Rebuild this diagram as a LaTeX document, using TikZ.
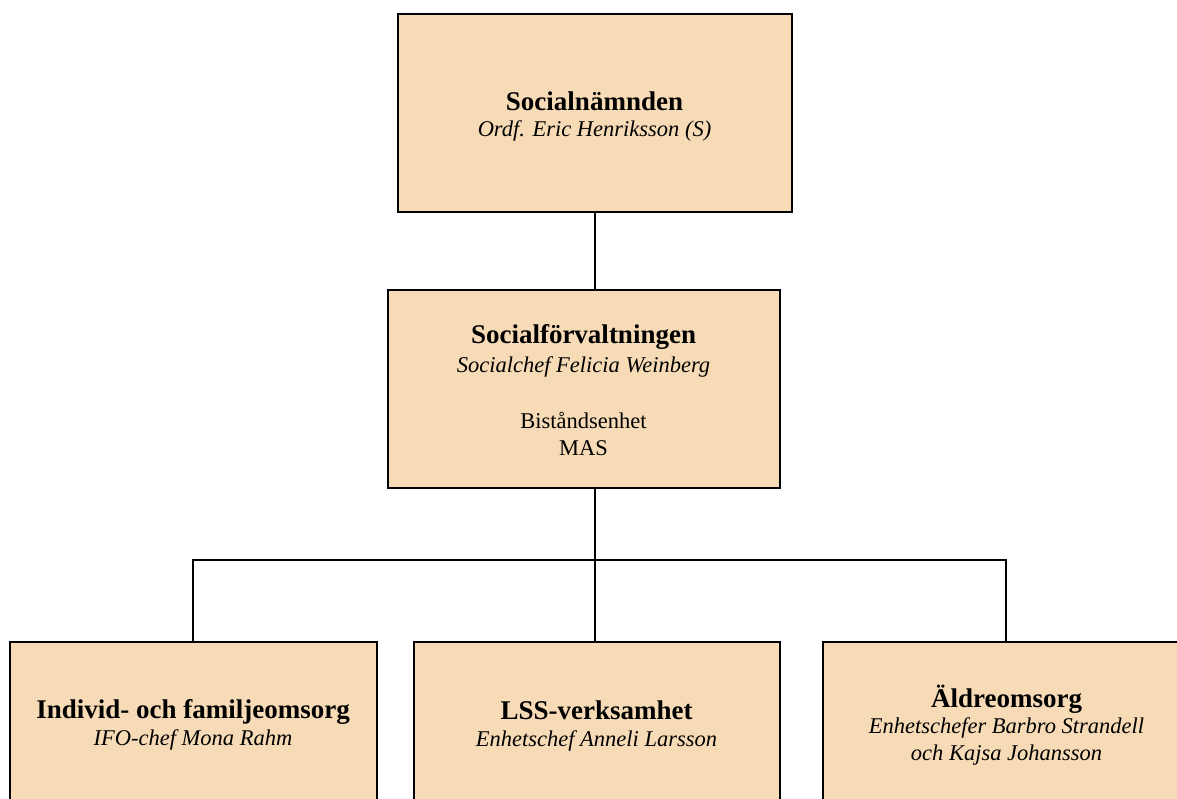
\documentclass[tikz,border=0pt]{standalone}
\usepackage{fontspec}
\setmainfont{Liberation Serif}
\definecolor{boxfill}{RGB}{247,219,183}
\begin{document}
\begin{tikzpicture}[x=1pt,y=-1pt,
  orgbox/.style={draw=black,fill=boxfill,line width=2pt,rectangle,inner sep=0pt},
  conn/.style={draw=black,line width=2pt},
  ttl/.style={anchor=base,inner sep=0pt,font=\fontsize{27}{30}\selectfont\bfseries},
  sub/.style={anchor=base,inner sep=0pt,font=\fontsize{22.5}{27}\selectfont\itshape},
  txt/.style={anchor=base,inner sep=0pt,font=\fontsize{22.5}{27}\selectfont}]
\useasboundingbox (0,0) rectangle (1177,799);
\clip (0,0) rectangle (1177,799);
\fill[white] (0,0) rectangle (1177,799);
% boxes
\node[orgbox,minimum width=394pt,minimum height=198pt] (top) at (594.5,113.5) {};
\node[orgbox,minimum width=392pt,minimum height=197pt] (mid) at (583.5,389) {};
\node[orgbox,minimum width=367pt,minimum height=198pt] (ifo) at (193,740.5) {};
\node[orgbox,minimum width=366pt,minimum height=198pt] (lss) at (596.5,740.5) {};
\node[orgbox,minimum width=366pt,minimum height=198pt] (ald) at (1006,740.5) {};
% texts
\node[ttl] (topA) at (594.5,111) {Socialnämnden};
\node[sub] (topB) at (594.5,137) {Ordf. Eric Henriksson (S)};
\node[ttl] (midA) at (583.5,343) {Socialförvaltningen};
\node[sub] (midB) at (583.5,372) {Socialchef Felicia Weinberg};
\node[txt] (midC) at (583.5,428) {Biståndsenhet};
\node[txt] (midD) at (583.5,455) {MAS};
\node[ttl] (ifoA) at (193,718) {Individ- och familjeomsorg};
\node[sub] (ifoB) at (193,745) {IFO-chef Mona Rahm};
\node[ttl] (lssA) at (596.5,719) {LSS-verksamhet};
\node[sub] (lssB) at (596.5,746) {Enhetschef Anneli Larsson};
\node[ttl] (aldA) at (1006.5,707) {Äldreomsorg};
\node[sub] (aldB) at (1006.5,733) {Enhetschefer Barbro Strandell};
\node[sub] (aldC) at (1006.5,760) {och Kajsa Johansson};
% connectors
\coordinate (bus) at (595,560);
\draw[conn] (top.south) -- (top.south |- mid.north);
\draw[conn] (bus |- mid.south) -- (bus);
\draw[conn,line join=miter] (ifo.north) |- (bus) -| (ald.north);
\draw[conn] (bus) -- (bus |- lss.north);
\end{tikzpicture}
\end{document}
